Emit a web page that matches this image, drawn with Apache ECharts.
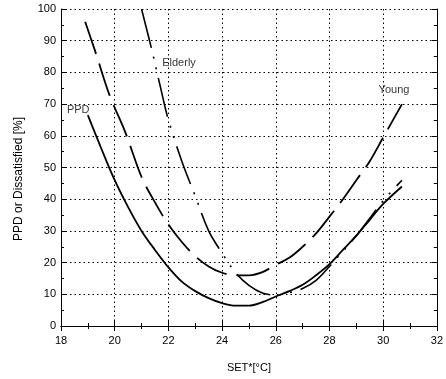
<!DOCTYPE html>
<html>
<head>
<meta charset="utf-8">
<script src="https://cdn.jsdelivr.net/npm/echarts@6/dist/echarts.min.js"></script>
<style>
  html, body { margin: 0; padding: 0; background: #fff; }
  #chart { width: 446px; height: 379px; }
</style>
</head>
<body>
<div id="chart"></div>
<script>
// SET* temperature (°C) against percentage dissatisfied
const ppdSet   = [19.0, 19.5, 20.0, 20.5, 21.0, 21.5, 22.0, 22.5, 23.0, 23.5, 24.0, 24.5, 25.0, 25.5, 26.0, 26.5, 27.0, 27.5, 28.0, 28.5, 29.0, 29.5, 30.0, 30.7];
const ppdVal   = [66.5, 56, 46, 37.5, 30, 24, 18.5, 14, 11, 8.8, 7.2, 6.4, 6.4, 7.5, 9.3, 11, 13, 16, 19.5, 24, 28.5, 33.5, 38.5, 44];

const youngSet = [18.9, 19.3, 19.8, 20.4, 21.0, 21.5, 22.0, 22.5, 23.0, 23.5, 24.0, 24.5, 25.0, 25.5, 26.0, 26.5, 27.0, 27.5, 28.0, 28.5, 29.0, 29.5, 30.0, 30.7];
const youngVal = [96, 86, 73, 61, 47, 39, 32, 26.5, 22, 18.8, 16.8, 16, 16, 17, 19.3, 21.5, 25, 29.2, 34.5, 40, 46, 52, 59.5, 70];

const elderSet = [21.0, 21.4, 21.7, 22.0, 22.5, 23.0, 23.5, 24.0, 24.5, 25.0, 25.5, 26.0, 26.5, 27.0, 27.5, 28.0, 28.5, 29.0, 29.5, 30.0, 30.7];
const elderVal = [100, 86.5, 75.5, 65, 52, 41, 30, 23, 16.8, 12.8, 10.4, 9.8, 10.5, 11.8, 14.4, 18.8, 23.6, 28.5, 34, 39.5, 46];

const xTicks = [18, 20, 22, 24, 26, 28, 30, 32];
const yTicks = [0, 10, 20, 30, 40, 50, 60, 70, 80, 90, 100];

// curve captions, placed in data units
const captions = [
  { text: 'PPD',     x: 18.22, y: 68 },
  { text: 'Elderly', x: 21.77, y: 83 },
  { text: 'Young',   x: 29.83, y: 74.5 }
];

const pairs = (xs, ys) => xs.map((x, i) => [x, ys[i]]);
const FONT = 'Liberation Sans, Arial, sans-serif';

const chart = echarts.init(document.getElementById('chart'), null, { renderer: 'canvas' });

const tickCommon = {
  axisLine: { show: true, lineStyle: { color: '#000', width: 1 } },
  axisTick: { show: true, inside: true, length: 5, lineStyle: { color: '#000' } },
  minorTick: { show: true, splitNumber: 2, length: 3, lineStyle: { color: '#000' } }
};

chart.setOption({
  animation: false,
  backgroundColor: '#fff',
  grid: { left: 61, right: 9, top: 9, bottom: 53, containLabel: false },
  xAxis: [
    Object.assign({
      type: 'value', min: xTicks[0], max: xTicks[xTicks.length - 1], interval: 2,
      name: 'SET*[°C]', nameLocation: 'middle', nameGap: 36,
      nameTextStyle: { fontFamily: FONT, fontSize: 11, color: '#000' },
      axisLabel: { fontFamily: FONT, fontSize: 11, color: '#000', margin: 9 },
      splitLine: { show: true, lineStyle: { color: '#000', type: [1.5, 3], width: 1 } }
    }, tickCommon),
    Object.assign({
      type: 'value', position: 'top', min: xTicks[0], max: xTicks[xTicks.length - 1], interval: 2,
      axisLabel: { show: false }, splitLine: { show: false }
    }, tickCommon)
  ],
  yAxis: [
    Object.assign({
      type: 'value', min: yTicks[0], max: yTicks[yTicks.length - 1], interval: 10,
      axisLabel: { fontFamily: FONT, fontSize: 11, color: '#000', margin: 5 },
      splitLine: { show: true, lineStyle: { color: '#000', type: [1.5, 3], width: 1 } }
    }, tickCommon),
    Object.assign({
      type: 'value', position: 'right', min: yTicks[0], max: yTicks[yTicks.length - 1], interval: 10,
      axisLabel: { show: false }, splitLine: { show: false }
    }, tickCommon)
  ],
  graphic: [
    {
      type: 'text', x: 18.5, y: 179, rotation: Math.PI / 2,
      style: {
        text: 'PPD or Dissatisfied [%]', fontFamily: FONT, fontSize: 12, fill: '#000',
        align: 'center', verticalAlign: 'middle'
      }
    }
  ],
  series: [
    {
      name: 'PPD', type: 'line', smooth: 0.35, showSymbol: false,
      data: pairs(ppdSet, ppdVal),
      lineStyle: { color: '#000', width: 1.8, type: 'solid' }
    },
    {
      name: 'Young', type: 'line', smooth: 0.35, showSymbol: false,
      data: pairs(youngSet, youngVal),
      lineStyle: { color: '#000', width: 1.8, type: [34, 10] }
    },
    {
      name: 'Elderly', type: 'line', smooth: 0.35, showSymbol: false,
      data: pairs(elderSet, elderVal),
      lineStyle: { color: '#000', width: 1.6, type: [40, 9, 2, 9, 2, 9] }
    },
    {
      name: 'captions', type: 'scatter', symbolSize: 0, silent: true,
      data: captions.map(c => ({ value: [c.x, c.y], name: c.text })),
      label: {
        show: true, position: 'right', distance: 0,
        formatter: p => p.name,
        fontFamily: FONT, fontSize: 11, color: '#000'
      }
    }
  ]
});
</script>
</body>
</html>
